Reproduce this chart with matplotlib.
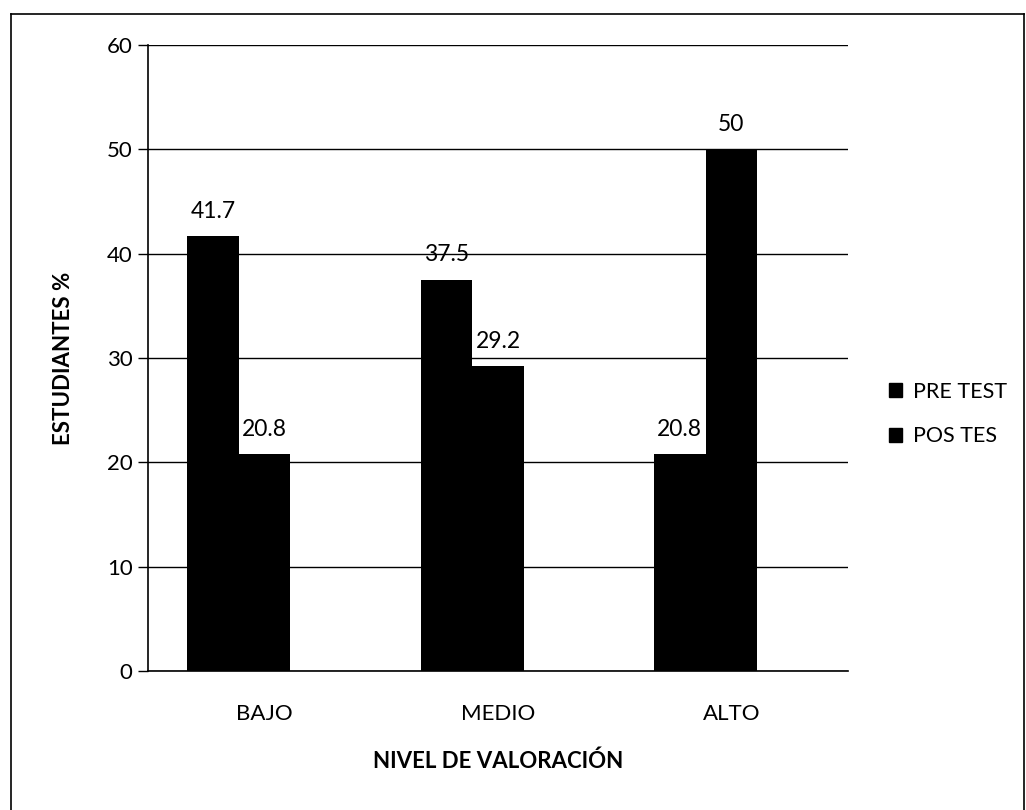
import matplotlib.pyplot as plt
from matplotlib.lines import Line2D
import numpy as np

categories = ['BAJO', 'MEDIO', 'ALTO']
pre_test = [41.7, 37.5, 20.8]
pos_test = [20.8, 29.2, 50]
series_names = ['PRE TEST', 'POS TES']
y_ticks = [0, 10, 20, 30, 40, 50, 60]

plt.rcParams['font.family'] = ['Lato', 'DejaVu Sans']

W, H = 1026, 810
fig = plt.figure(figsize=(W / 100, H / 100), dpi=100, facecolor='white')
ax = fig.add_axes([148 / W, 1 - 671 / H, 700 / W, (671 - 45) / H])

x = np.arange(len(categories))
w = 0.221
b1 = ax.bar(x - w, pre_test, width=w, color='black', zorder=3)
b2 = ax.bar(x, pos_test, width=w, color='black', zorder=3)

# etiquetas de datos
for bars, vals in ((b1, pre_test), (b2, pos_test)):
    for r, v in zip(bars, vals):
        ax.text(r.get_x() + r.get_width() / 2, v + 1.75, f'{v:g}',
                ha='center', va='baseline', fontsize=16.5, color='black', zorder=4)

ax.set_xlim(-0.5, 2.5)
ax.set_ylim(0, 60)
ax.set_yticks(y_ticks)
ax.set_xticks(x)
ax.set_xticklabels(categories)
ax.tick_params(axis='x', length=0, pad=24, labelsize=16)
ax.tick_params(axis='y', length=7, width=1, direction='out', pad=4, labelsize=16)
ax.yaxis.grid(True, color='black', linewidth=1)
ax.set_axisbelow(True)
ax.spines['top'].set_visible(False)
ax.spines['right'].set_visible(False)
ax.spines['left'].set_linewidth(1.2)
ax.spines['bottom'].set_linewidth(1.2)

ax.set_ylabel('ESTUDIANTES %', fontsize=16, fontweight='bold', labelpad=24)
ax.set_xlabel('NIVEL DE VALORACIÓN', fontsize=16, fontweight='bold', labelpad=19)

handles = [plt.Rectangle((0, 0), 1, 1, color='black') for _ in series_names]
fig.legend(handles, series_names, loc='center left', bbox_to_anchor=(870 / W, 1 - 414 / H),
           frameon=False, fontsize=15.5, handlelength=0.6, handleheight=0.6,
           handletextpad=0.5, labelspacing=1.15)

# borde de la figura
for xs, ys in (([11, 11], [14, H]), ([11, 1024], [14, 14]), ([1024, 1024], [14, H])):
    fig.add_artist(Line2D([v / W for v in xs], [1 - v / H for v in ys], color='black', linewidth=1.2))

fig.savefig('out.png', dpi=100, facecolor='white')
